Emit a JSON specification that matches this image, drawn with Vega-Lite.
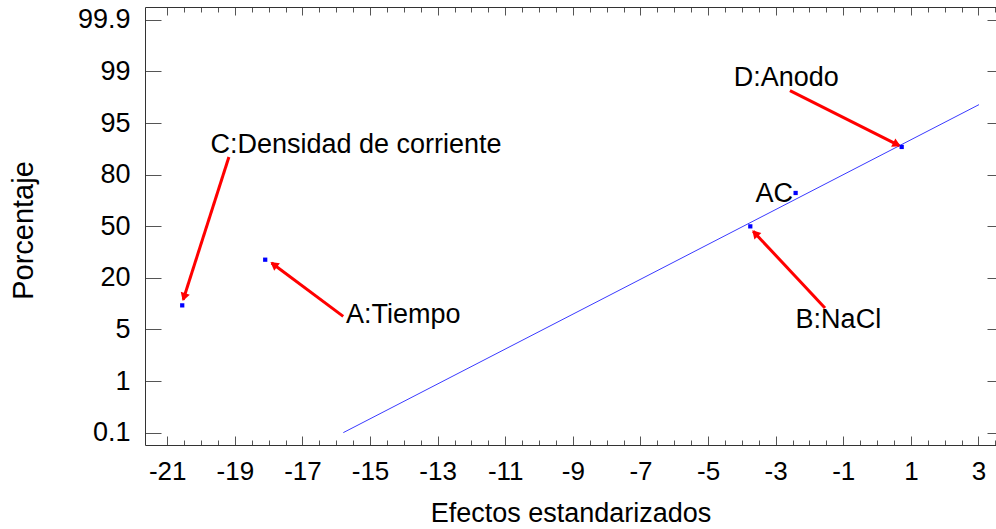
{
  "$schema": "https://vega.github.io/schema/vega-lite/v6.json",
  "autosize": {"type": "none"},
  "padding": {"left": 145, "top": 7, "right": 0, "bottom": 84},
  "width": 851,
  "height": 438,
  "background": "white",
  "config": {
    "view": {"stroke": null},
    "font": "Liberation Sans",
    "axis": {
      "labelFont": "Liberation Sans",
      "titleFont": "Liberation Sans",
      "labelColor": "black",
      "titleColor": "black",
      "titleFontWeight": "normal",
      "domainColor": "#333333",
      "tickColor": "#555555",
      "grid": false
    }
  },
  "datasets": {
    "fit": [
      {"x": -15.79, "y": 0.0},
      {"x": 3.015, "y": 6.356}
    ],
    "effects": [
      {"efecto": "C:Densidad de corriente", "x": -20.556, "y": 2.466},
      {"efecto": "A:Tiempo", "x": -18.101, "y": 3.351},
      {"efecto": "B:NaCl", "x": -3.751, "y": 3.997},
      {"efecto": "AC", "x": -2.41, "y": 4.644},
      {"efecto": "D:Anodo", "x": 0.728, "y": 5.536}
    ],
    "arrows": [
      {"efecto": "C", "x": -19.175, "y": 5.342, "x2": -20.527, "y2": 2.576},
      {"efecto": "A", "x": -15.793, "y": 2.252, "x2": -17.911, "y2": 3.287},
      {"efecto": "B", "x": -1.541, "y": 2.415, "x2": -3.663, "y2": 3.9},
      {"efecto": "D", "x": -2.577, "y": 6.627, "x2": 0.657, "y2": 5.561}
    ],
    "labels": [
      {"text": "C:Densidad de corriente", "x": -19.72, "y": 5.42},
      {"text": "A:Tiempo", "x": -15.71, "y": 2.124},
      {"text": "B:NaCl", "x": -2.41, "y": 2.028},
      {"text": "AC", "x": -3.6, "y": 4.47},
      {"text": "D:Anodo", "x": -4.24, "y": 6.711}
    ]
  },
  "resolve": {"axis": {"x": "independent", "y": "independent"}},
  "layer": [
    {
      "data": {"name": "fit"},
      "mark": {"type": "line", "color": "#3a3aff", "strokeWidth": 1},
      "encoding": {
        "x": {
          "field": "x", "type": "quantitative",
          "scale": {"domain": [-21.657, 3.518], "nice": false, "zero": false},
          "axis": {
            "orient": "bottom",
            "title": "Efectos estandarizados",
            "titleFontSize": 27,
            "titleX": 425.5,
            "titleY": 76.7,
            "titleBaseline": "alphabetic",
            "titleAlign": "center",
            "values": [-21, -20.5, -20, -19.5, -19, -18.5, -18, -17.5, -17, -16.5, -16, -15.5, -15, -14.5, -14, -13.5, -13, -12.5, -12, -11.5, -11, -10.5, -10, -9.5, -9, -8.5, -8, -7.5, -7, -6.5, -6, -5.5, -5, -4.5, -4, -3.5, -3, -2.5, -2, -1.5, -1, -0.5, 0, 0.5, 1, 1.5, 2, 2.5, 3, 3.5],
            "labelExpr": "abs(datum.value % 2) == 1 ? ((datum.value < 0 ? '-' : '') + toString(abs(datum.value))) : ''",
            "labelFontSize": 26,
            "labelBaseline": "alphabetic",
            "labelPadding": 43,
            "labelFlush": false,
            "labelOverlap": false,
            "tickSize": {"condition": {"test": "abs(datum.value % 2) == 1", "value": -9}, "value": -5},
            "domainColor": "#333333"
          }
        },
        "y": {
          "field": "y", "type": "quantitative",
          "scale": {"domain": [-0.24, 8.248], "nice": false, "zero": false},
          "axis": {
            "orient": "left",
            "title": "Porcentaje",
            "titleFontSize": 29,
            "titleAngle": -90,
            "titleX": -112.3,
            "titleY": 223,
            "titleBaseline": "alphabetic",
            "titleAlign": "center",
            "values": [0, 1, 2, 3, 4, 5, 6, 7, 8],
            "labelExpr": "['0.1','1','5','20','50','80','95','99','99.9'][datum.value]",
            "labelFontSize": 27,
            "labelBaseline": "middle",
            "labelPadding": 31,
            "labelFlush": false,
            "labelOverlap": false,
            "tickSize": -16
          }
        }
      }
    },
    {
      "data": {"name": "arrows"},
      "mark": {"type": "rule", "color": "#ff0000", "strokeWidth": 3},
      "encoding": {
        "x": {"field": "x", "type": "quantitative", "axis": null},
        "y": {"field": "y", "type": "quantitative", "axis": null},
        "x2": {"field": "x2"},
        "y2": {"field": "y2"}
      }
    },
    {
      "data": {"name": "arrows"},
      "transform": [
        {"calculate": "(datum.x2 - datum.x) * 33.8", "as": "dxp"},
        {"calculate": "(datum.y2 - datum.y) * 51.59", "as": "dyp"},
        {"calculate": "sqrt(datum.dxp * datum.dxp + datum.dyp * datum.dyp)", "as": "len"},
        {"calculate": "datum.x2 - 4 * datum.dxp / datum.len / 33.8", "as": "hx"},
        {"calculate": "datum.y2 - 4 * datum.dyp / datum.len / 51.59", "as": "hy"},
        {"calculate": "atan2(datum.dxp, datum.dyp) * 180 / PI", "as": "ang"}
      ],
      "mark": {"type": "point", "shape": "triangle", "filled": true, "color": "#ff0000", "size": 90, "opacity": 1},
      "encoding": {
        "x": {"field": "hx", "type": "quantitative", "axis": null},
        "y": {"field": "hy", "type": "quantitative", "axis": null},
        "angle": {"field": "ang", "type": "quantitative", "scale": {"domain": [0, 360], "range": [0, 360]}}
      }
    },
    {
      "data": {"name": "effects"},
      "mark": {"type": "point", "shape": "square", "filled": true, "color": "#0000ff", "size": 18, "opacity": 1},
      "encoding": {
        "x": {
          "field": "x", "type": "quantitative",
          "axis": {
            "orient": "top",
            "title": null,
            "labels": false,
            "values": [-21, -20.5, -20, -19.5, -19, -18.5, -18, -17.5, -17, -16.5, -16, -15.5, -15, -14.5, -14, -13.5, -13, -12.5, -12, -11.5, -11, -10.5, -10, -9.5, -9, -8.5, -8, -7.5, -7, -6.5, -6, -5.5, -5, -4.5, -4, -3.5, -3, -2.5, -2, -1.5, -1, -0.5, 0, 0.5, 1, 1.5, 2, 2.5, 3, 3.5],
            "tickSize": {"condition": {"test": "abs(datum.value % 2) == 1", "value": -8}, "value": -5},
            "domain": true
          }
        },
        "y": {
          "field": "y", "type": "quantitative",
          "axis": {
            "orient": "right",
            "title": null,
            "labels": false,
            "values": [0, 1, 2, 3, 4, 5, 6, 7, 8],
            "tickSize": -9,
            "domain": false
          }
        }
      }
    },
    {
      "data": {"name": "labels"},
      "mark": {"type": "text", "align": "left", "baseline": "alphabetic", "fontSize": 27, "font": "Liberation Sans", "color": "black"},
      "encoding": {
        "x": {"field": "x", "type": "quantitative", "axis": null},
        "y": {"field": "y", "type": "quantitative", "axis": null},
        "text": {"field": "text"}
      }
    }
  ]
}
